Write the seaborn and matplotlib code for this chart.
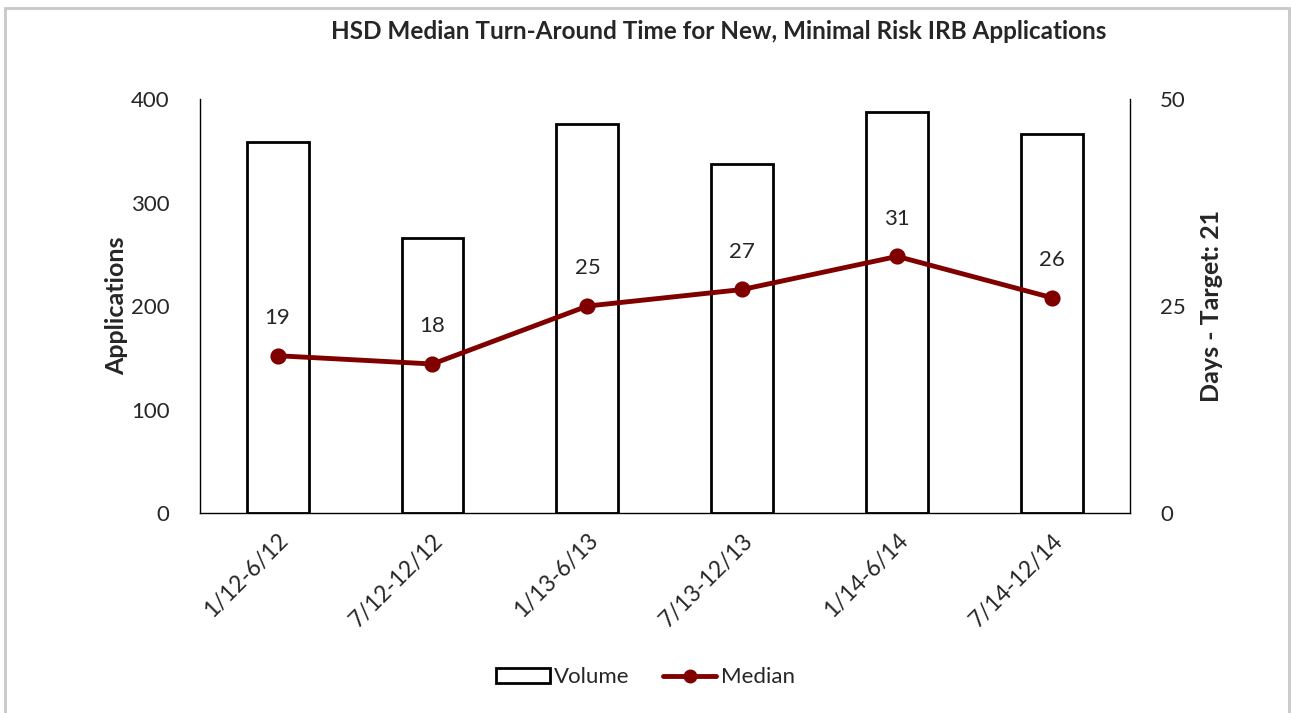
import numpy as np
import pandas as pd
import matplotlib
matplotlib.use('Agg')
import matplotlib.pyplot as plt
from matplotlib.patches import Patch, Rectangle
from matplotlib.lines import Line2D
import seaborn as sns

# ── data ──
periods = ['1/12-6/12', '7/12-12/12', '1/13-6/13', '7/13-12/13', '1/14-6/14', '7/14-12/14']
volume = [359, 266, 376, 337, 388, 366]
median = [19, 18, 25, 27, 31, 26]

df = pd.DataFrame({'period': periods, 'volume': volume, 'median': median})

sns.set_style('white')
plt.rcParams['font.family'] = ['Lato', 'DejaVu Sans']

DARK_RED = '#800000'

fig = plt.figure(figsize=(12.91, 7.13), dpi=100)
ax = fig.add_axes([0.155, 0.2805, 0.72, 0.5805])

# bars (volume) on left axis
sns.barplot(data=df, x='period', y='volume', order=periods, ax=ax,
            color='white', edgecolor='black', linewidth=2, width=0.4)
ax.set_ylim(0, 400)
ax.set_yticks([0, 100, 200, 300, 400])
ax.set_xlim(-0.5, 5.5)
ax.set_xlabel('')
ax.set_ylabel('Applications', fontsize=18, fontweight='bold', labelpad=2)
ax.tick_params(axis='y', labelsize=16, length=0, pad=22)
ax.tick_params(axis='x', labelsize=16.5, length=0, pad=12)
ax.set_xticks(range(len(periods)))
ax.set_xticklabels(periods, rotation=45, ha='right', rotation_mode='anchor')
for s in ['top', 'right']:
    ax.spines[s].set_visible(False)
for s in ['left', 'bottom']:
    ax.spines[s].set_color('black')
    ax.spines[s].set_linewidth(1)

# line (median days) on right axis
ax2 = ax.twinx()
sns.pointplot(data=df, x='period', y='median', order=periods, ax=ax2,
              color=DARK_RED, markers='o', markersize=9, linewidth=3.5)
ax2.set_ylim(0, 50)
ax2.set_yticks([0, 25, 50])
ax2.set_xlim(-0.5, 5.5)
ax2.set_ylabel('Days - Target: 21', fontsize=18, fontweight='bold', labelpad=10)
ax2.tick_params(axis='y', labelsize=16, length=0, pad=22)
for s in ['top', 'left', 'bottom']:
    ax2.spines[s].set_visible(False)
ax2.spines['right'].set_color('black')
ax2.spines['right'].set_linewidth(1)
ax2.set_xlabel('')

for i, v in enumerate(median):
    ax2.annotate(str(v), (i, v), textcoords='offset points', xytext=(0, 20),
                 ha='center', va='bottom', fontsize=16)

fig.suptitle('HSD Median Turn-Around Time for New, Minimal Risk IRB Applications',
             x=0.557, y=0.972, fontsize=17.5, fontweight='bold')

handles = [Patch(facecolor='white', edgecolor='black', linewidth=2, label='Volume'),
           Line2D([0], [0], color=DARK_RED, linewidth=3.5, marker='o', markersize=9,
                  label='Median')]
fig.legend(handles=handles, loc='center', bbox_to_anchor=(0.5, 0.05), ncol=2,
           frameon=False, fontsize=16, handlelength=2.4, handletextpad=0.2,
           columnspacing=1.5)

# light grey frame round the chart area
fig.patches.append(Rectangle((0.0039, -0.01), 0.9946, 0.9988, transform=fig.transFigure,
                             fill=False, edgecolor='#c8c8c8', linewidth=2))

fig.savefig('out.png', dpi=100)
